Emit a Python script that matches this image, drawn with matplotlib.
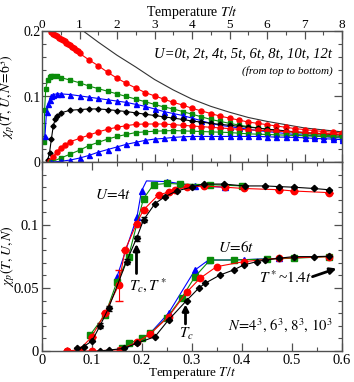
import matplotlib
matplotlib.use("Agg")
import matplotlib.pyplot as plt
from matplotlib.ticker import MultipleLocator

plt.rcParams['font.family'] = ['Liberation Serif', 'DejaVu Serif']
plt.rcParams['mathtext.fontset'] = 'stix'

# ---------------- top panel data (N=6^3) ----------------
T_U0 = [1.1, 1.5, 2.0, 2.5, 3.0, 3.5, 4.0, 4.5, 5.0, 5.5, 6.0, 6.5, 7.0, 7.5, 8.0]
C_U0 = [0.200, 0.183, 0.163, 0.145, 0.126, 0.110, 0.096, 0.085, 0.076, 0.068, 0.062, 0.057, 0.052, 0.049, 0.046]

T_U2 = [0.25, 0.3, 0.35, 0.4, 0.45, 0.5, 0.55, 0.6, 0.65, 0.7, 0.75, 0.8, 0.85, 0.9, 0.95, 1.0,
        1.25, 1.5, 1.75, 2.0, 2.25, 2.5, 2.75, 3.0, 3.25, 3.5, 3.75, 4.0, 4.25, 4.5, 4.75, 5.0,
        5.25, 5.5, 5.75, 6.0, 6.25, 6.5, 6.75, 7.0, 7.25, 7.5, 7.75, 8.0]
C_U2 = [0.198, 0.196, 0.194, 0.192, 0.190, 0.188, 0.186, 0.184, 0.182, 0.180, 0.178, 0.176, 0.174, 0.171, 0.169, 0.166,
        0.156, 0.147, 0.137, 0.128, 0.120, 0.113, 0.106, 0.101, 0.096, 0.091, 0.087, 0.082, 0.078, 0.074, 0.070, 0.067,
        0.064, 0.061, 0.059, 0.057, 0.055, 0.053, 0.051, 0.0495, 0.048, 0.0465, 0.0455, 0.0443]

T_U4 = [0.05, 0.07, 0.1, 0.15, 0.2, 0.25, 0.3, 0.4, 0.5, 0.75, 1.0, 1.25, 1.5, 1.75, 2.0, 2.25, 2.5, 2.75,
        3.0, 3.25, 3.5, 3.75, 4.0, 4.25, 4.5, 4.75, 5.0, 5.25, 5.5, 5.75, 6.0, 6.25, 6.5, 6.75, 7.0,
        7.25, 7.5, 7.75, 8.0]
C_U4 = [0.030, 0.080, 0.112, 0.125, 0.130, 0.132, 0.132, 0.131, 0.129, 0.125, 0.121, 0.116, 0.112, 0.108, 0.104, 0.100, 0.096, 0.092,
        0.088, 0.084, 0.081, 0.077, 0.073, 0.069, 0.065, 0.062, 0.059, 0.0565, 0.054, 0.052, 0.050, 0.048, 0.0465, 0.045, 0.0435,
        0.042, 0.041, 0.040, 0.039]

T_U5 = [0.08, 0.12, 0.16, 0.2, 0.25, 0.3, 0.4, 0.5, 0.75, 1.0, 1.25, 1.5, 1.75, 2.0, 2.25, 2.5, 2.75,
        3.0, 3.25, 3.5, 3.75, 4.0, 4.25, 4.5, 4.75, 5.0, 5.25, 5.5, 5.75, 6.0, 6.25, 6.5, 6.75, 7.0,
        7.25, 7.5, 7.75, 8.0]
C_U5 = [0.040, 0.077, 0.088, 0.095, 0.100, 0.103, 0.104, 0.104, 0.103, 0.101, 0.099, 0.097, 0.095, 0.093, 0.091, 0.088, 0.085,
        0.081, 0.077, 0.074, 0.071, 0.067, 0.063, 0.059, 0.056, 0.054, 0.052, 0.050, 0.048, 0.0465, 0.045, 0.0435, 0.042, 0.041,
        0.040, 0.039, 0.0375, 0.0366]

T_U6 = [0.15, 0.2, 0.25, 0.3, 0.35, 0.4, 0.5, 0.75, 1.0, 1.25, 1.5, 1.75, 2.0, 2.25, 2.5, 2.75,
        3.0, 3.25, 3.5, 3.75, 4.0, 4.25, 4.5, 4.75, 5.0, 5.25, 5.5, 5.75, 6.0, 6.25, 6.5, 6.75, 7.0,
        7.25, 7.5, 7.75, 8.0]
C_U6 = [0.003, 0.014, 0.035, 0.055, 0.065, 0.070, 0.075, 0.079, 0.080, 0.081, 0.081, 0.080, 0.0785, 0.077, 0.075, 0.073,
        0.071, 0.069, 0.067, 0.065, 0.0625, 0.061, 0.059, 0.0575, 0.056, 0.0545, 0.053, 0.052, 0.050, 0.049, 0.0475, 0.046, 0.045,
        0.044, 0.043, 0.042, 0.041]

T_U8 = [0.2, 0.3, 0.4, 0.5, 0.6, 0.75, 1.0, 1.25, 1.5, 1.75, 2.0, 2.25, 2.5, 2.75,
        3.0, 3.25, 3.5, 3.75, 4.0, 4.25, 4.5, 4.75, 5.0, 5.25, 5.5, 5.75, 6.0, 6.25, 6.5, 6.75, 7.0,
        7.25, 7.5, 7.75, 8.0]
C_U8 = [0.001, 0.008, 0.016, 0.022, 0.026, 0.031, 0.036, 0.041, 0.046, 0.050, 0.053, 0.0555, 0.0575, 0.058,
        0.058, 0.058, 0.057, 0.056, 0.055, 0.054, 0.053, 0.052, 0.051, 0.050, 0.049, 0.0485, 0.048, 0.047, 0.0465, 0.046, 0.045,
        0.044, 0.0435, 0.043, 0.0425]

T_U10 = [0.25, 0.5, 0.75, 1.0, 1.25, 1.5, 1.75, 2.0, 2.25, 2.5, 2.75,
         3.0, 3.25, 3.5, 3.75, 4.0, 4.25, 4.5, 4.75, 5.0, 5.25, 5.5, 5.75, 6.0, 6.25, 6.5, 6.75, 7.0,
         7.25, 7.5, 7.75, 8.0]
C_U10 = [0.0, 0.006, 0.012, 0.018, 0.025, 0.030, 0.035, 0.039, 0.042, 0.045, 0.046,
         0.047, 0.0475, 0.048, 0.0475, 0.047, 0.0465, 0.046, 0.0455, 0.045, 0.044, 0.043, 0.0425, 0.042, 0.0415, 0.041, 0.0405, 0.040,
         0.0395, 0.039, 0.0385, 0.038]

T_U12 = [0.25, 0.5, 0.75, 1.0, 1.25, 1.5, 1.75, 2.0, 2.25, 2.5, 2.75,
         3.0, 3.25, 3.5, 3.75, 4.0, 4.25, 4.5, 4.75, 5.0, 5.25, 5.5, 5.75, 6.0, 6.25, 6.5, 6.75, 7.0,
         7.25, 7.5, 7.75, 8.0]
C_U12 = [0.0, 0.001, 0.003, 0.006, 0.010, 0.015, 0.019, 0.023, 0.027, 0.030, 0.033,
         0.035, 0.036, 0.0375, 0.0385, 0.039, 0.039, 0.039, 0.039, 0.039, 0.039, 0.039, 0.039, 0.0385, 0.038, 0.038, 0.0375, 0.037,
         0.036, 0.0355, 0.035, 0.034]

# ---------------- bottom panel data ----------------
# U = 4t
T4_N10 = [0.15, 0.19, 0.199, 0.209, 0.25, 0.306, 0.366]
C4_N10 = [0.059, 0.1066, 0.127, 0.135, 0.1344, 0.131, 0.130]
T4_N8 = [0.096, 0.126, 0.15, 0.173, 0.203, 0.223, 0.25, 0.276, 0.336, 0.40]
C4_N8 = [0.0127, 0.0286, 0.055, 0.075, 0.121, 0.132, 0.133, 0.1325, 0.132, 0.131]
T4_N6 = [0.05, 0.075, 0.099, 0.126, 0.153, 0.166, 0.189, 0.203, 0.233, 0.253, 0.266, 0.289, 0.323, 0.366, 0.403, 0.473, 0.503, 0.573]
C4_N6 = [0.0, 0.001, 0.011, 0.030, 0.052, 0.080, 0.101, 0.112, 0.124, 0.126, 0.128, 0.130, 0.131, 0.130, 0.129, 0.128, 0.127, 0.1257]
E4_N6 = [0, 0, 0, 0, 0.012, 0, 0, 0, 0, 0, 0, 0, 0, 0, 0, 0, 0, 0]
T4_N4 = [0.07, 0.083, 0.10, 0.116, 0.133, 0.169, 0.189, 0.203, 0.226, 0.246, 0.269, 0.299, 0.323, 0.363, 0.406, 0.446, 0.473, 0.503, 0.543, 0.573]
C4_N4 = [0.002, 0.0034, 0.008, 0.020, 0.034, 0.071, 0.0894, 0.104, 0.117, 0.1225, 0.127, 0.130, 0.1325, 0.1325, 0.131, 0.131, 0.1305, 0.130, 0.129, 0.128]
E4_N4 = [0, 0, 0, 0.002, 0.002, 0.002, 0.002, 0.002, 0, 0, 0, 0, 0, 0, 0, 0, 0, 0, 0, 0]
# U = 6t
T6_N10 = [0.16, 0.216, 0.253, 0.306, 0.333, 0.37, 0.403, 0.473]
C6_N10 = [0.0, 0.014, 0.030, 0.0643, 0.0722, 0.0722, 0.0725, 0.0735]
T6_N8 = [0.16, 0.173, 0.2, 0.216, 0.249, 0.279, 0.306, 0.336, 0.383, 0.45, 0.503, 0.573]
C6_N8 = [0.002, 0.006, 0.010, 0.014, 0.026, 0.042, 0.059, 0.0722, 0.0722, 0.073, 0.0736, 0.0749]
T6_N6 = [0.05, 0.10, 0.156, 0.19, 0.216, 0.253, 0.289, 0.316, 0.349, 0.403, 0.473, 0.573]
C6_N6 = [0.0, 0.0, 0.001, 0.007, 0.0134, 0.0272, 0.0465, 0.0577, 0.0669, 0.0709, 0.0736, 0.0749]
T6_N4 = [0.116, 0.133, 0.163, 0.189, 0.226, 0.253, 0.289, 0.313, 0.326, 0.356, 0.383, 0.403, 0.429, 0.446, 0.473, 0.503, 0.543, 0.573]
C6_N4 = [0.0, 0.0007, 0.002, 0.006, 0.0114, 0.0246, 0.040, 0.0497, 0.0537, 0.0603, 0.0643, 0.0682, 0.0709, 0.0722, 0.0736, 0.0749, 0.0749, 0.0752]

RED, GREEN, BLUE, BLACK = '#ff0000', '#0a8c0a', '#0000ff', '#000000'
SPINE = '#505050'

fig = plt.figure(figsize=(3.54, 3.82), dpi=100)
W, H = 354.0, 382.0
ax1 = fig.add_axes([42 / W, (H - 162) / H, 300 / W, 131 / H])
ax2 = fig.add_axes([42 / W, (H - 351) / H, 300 / W, 189 / H])

lw = 0.8
ms = 3.6
ax1.plot(T_U0, C_U0, '-', color='#333333', lw=0.8)
top_series = [
    (T_U2, C_U2, RED, 'o', ms),
    (T_U4, C_U4, GREEN, 's', ms - 0.4),
    (T_U5, C_U5, BLUE, '^', ms),
    (T_U6, C_U6, BLACK, 'D', ms - 1.0),
    (T_U8, C_U8, RED, 'o', ms),
    (T_U10, C_U10, GREEN, 's', ms - 0.4),
    (T_U12, C_U12, BLUE, '^', ms),
]
for T, C, col, mk, m in top_series:
    ax1.plot(T, C, '-', color=col, lw=lw, marker=mk, ms=m, mec=col, mfc=col)

ax1.set_xlim(0, 8)
ax1.set_ylim(0, 0.2)
ax1.xaxis.set_major_locator(MultipleLocator(1))
ax1.xaxis.set_minor_locator(MultipleLocator(0.5))
ax1.yaxis.set_major_locator(MultipleLocator(0.1))
ax1.yaxis.set_minor_locator(MultipleLocator(0.02))
ax1.tick_params(which='both', direction='in', top=True, bottom=True, left=True, right=True,
                labeltop=True, labelbottom=False, labelsize=10, color=SPINE, pad=1)
ax1.tick_params(axis='x', which='both', pad=0, labelsize=9.5)
ax1.tick_params(which='major', length=6, width=0.9)
ax1.tick_params(which='minor', length=3, width=0.8)
ax1.set_yticks([0, 0.1, 0.2])
ax1.set_yticklabels(['0', '0.1', '0.2'])
ax1.xaxis.set_label_position('top')
ax1.set_xlabel('Temperature $T/t$', fontsize=10, labelpad=2)
ax1.set_ylabel(r'$\chi_p(T,U,N\!=\!6^3)$', fontsize=10)
ax1.yaxis.set_label_coords(-0.083, 0.5)
ax1.text(0.968, 0.83, 'U=0t, 2t, 4t, 5t, 6t, 8t, 10t, 12t', transform=ax1.transAxes,
         ha='right', va='center', fontsize=10.5, style='italic')
ax1.text(0.968, 0.695, '(from top to bottom)', transform=ax1.transAxes,
         ha='right', va='center', fontsize=8, style='italic')

ms2 = 4.6
ax2.plot(T4_N10, C4_N10, '-', color=BLUE, lw=lw, marker='^', ms=ms2, mec=BLUE, mfc=BLUE, markevery=[0, 1, 2, 4, 5, 6])
ax2.plot(T4_N8, C4_N8, '-', color=GREEN, lw=lw, marker='s', ms=ms2 - 0.6, mec=GREEN, mfc=GREEN)
ax2.errorbar(T4_N6, C4_N6, yerr=E4_N6, fmt='-', color=RED, lw=lw, marker='o', ms=ms2,
             mec=RED, mfc=RED, capsize=3, elinewidth=0.8)
ax2.errorbar(T4_N4, C4_N4, yerr=E4_N4, fmt='-', color=BLACK, lw=lw, marker='D', ms=ms2 - 1.4,
             mec=BLACK, mfc=BLACK, capsize=2.5, elinewidth=0.8)
ax2.plot(T6_N10, C6_N10, '-', color=BLUE, lw=lw, marker='^', ms=ms2, mec=BLUE, mfc=BLUE, markevery=[1, 2, 3, 4, 6, 7])
ax2.plot(T6_N8, C6_N8, '-', color=GREEN, lw=lw, marker='s', ms=ms2 - 0.6, mec=GREEN, mfc=GREEN)
ax2.plot(T6_N6, C6_N6, '-', color=RED, lw=lw, marker='o', ms=ms2, mec=RED, mfc=RED)
ax2.plot(T6_N4, C6_N4, '-', color=BLACK, lw=lw, marker='D', ms=ms2 - 1.4, mec=BLACK, mfc=BLACK)

ax2.set_xlim(0, 0.6)
ax2.set_ylim(0, 0.15)
ax2.xaxis.set_major_locator(MultipleLocator(0.1))
ax2.xaxis.set_minor_locator(MultipleLocator(0.05))
ax2.set_yticks([0, 0.05, 0.1])
ax2.set_yticklabels(['0', '0.05', '0.1'])
ax2.yaxis.set_minor_locator(MultipleLocator(0.01))
ax2.set_xticks([0, 0.1, 0.2, 0.3, 0.4, 0.5, 0.6])
ax2.set_xticklabels(['0', '0.1', '0.2', '0.3', '0.4', '0.5', '0.6'])
ax2.tick_params(which='both', direction='in', top=True, bottom=True, left=True, right=True,
                labelsize=10.5, color=SPINE, pad=2)
ax2.tick_params(which='major', length=6, width=0.9)
ax2.tick_params(which='minor', length=3, width=0.8)
ax2.set_xlabel('Temperature $T/t$', fontsize=9.5, labelpad=-1)
ax2.set_ylabel(r'$\chi_p(T,U,N)$', fontsize=10)
ax2.yaxis.set_label_coords(-0.083, 0.5)

ax2.text(0.142, 0.124, '$U\\!=\\!4t$', fontsize=11, ha='center', va='center')
ax2.text(0.388, 0.0825, '$U\\!=\\!6t$', fontsize=11, ha='center', va='center')
ax2.text(0.476, 0.0206, '$N\\!=\\!4^3,\\, 6^3,\\, 8^3,\\, 10^3$', fontsize=10.5, ha='center', va='center')

arrow = dict(arrowstyle='-|>', lw=2.0, color='k', mutation_scale=9, shrinkA=0, shrinkB=0)
ax2.annotate('', xy=(0.189, 0.085), xytext=(0.189, 0.0615), arrowprops=arrow)
ax2.text(0.213, 0.052, '$T_c, T^*$', fontsize=11, ha='center', va='center')
ax2.annotate('', xy=(0.287, 0.037), xytext=(0.287, 0.0215), arrowprops=arrow)
ax2.text(0.289, 0.0135, '$T_c$', fontsize=11, ha='center', va='center')
ax2.text(0.488, 0.0585, '$T^*$~$1.4t$', fontsize=11, ha='center', va='center')
ax2.annotate('', xy=(0.589, 0.0655), xytext=(0.541, 0.0590), arrowprops=arrow)

for ax in (ax1, ax2):
    for sp in ax.spines.values():
        sp.set_color(SPINE)
        sp.set_linewidth(1.0)

fig.savefig('out.png', dpi=100)
